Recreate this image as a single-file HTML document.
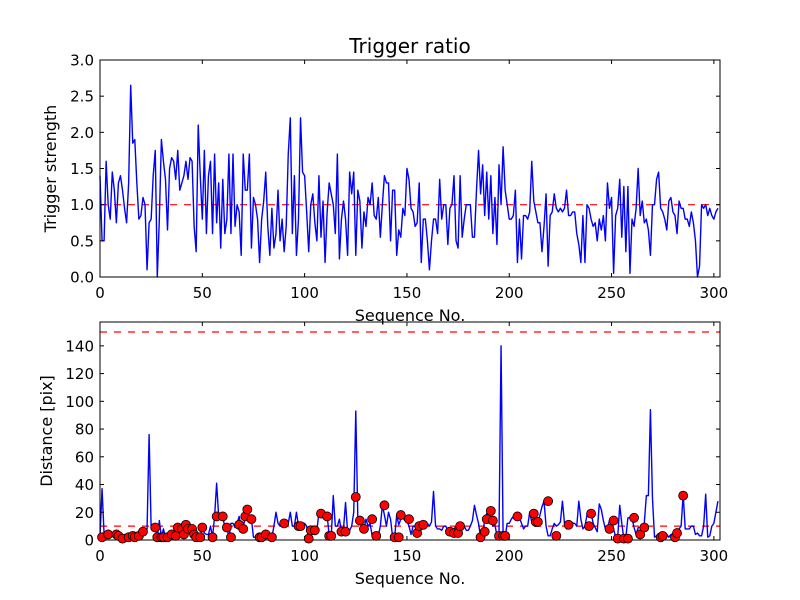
<!DOCTYPE html>
<html><head><meta charset="utf-8"><style>
body{margin:0;background:#fff;}
svg{display:block;font-family:"DejaVu Sans","Liberation Sans",sans-serif;}
</style></head><body>
<svg id="chart" width="800" height="600">
<rect width="800" height="600" fill="#fff"/>
<text x="410" y="53" font-size="20" text-anchor="middle">Trigger ratio</text>
<g id="top"></g>
<g id="bot"></g>
</svg>
<script>
const strength = [
1.4,0.5,0.5,1.6,1.0,0.8,1.45,1.2,0.75,1.3,
1.4,1.2,0.95,0.75,1.3,2.65,1.85,1.9,1.3,0.8,
0.85,1.1,1.0,0.1,0.75,0.8,1.4,1.75,0.0,0.8,
1.9,1.6,1.35,0.65,1.5,1.65,1.6,1.35,1.75,1.2,
1.3,1.4,1.6,1.35,1.65,1.6,0.7,0.35,2.1,1.4,
0.8,1.75,0.6,1.4,1.6,0.6,1.7,0.75,1.3,0.4,
1.35,0.6,0.8,1.7,0.6,1.7,0.7,1.0,0.9,0.3,
1.7,1.2,1.2,1.7,0.4,1.1,1.0,0.8,0.2,0.8,
1.05,1.45,0.7,0.3,0.95,0.4,0.6,1.2,0.5,0.8,
0.35,0.7,1.7,2.2,0.6,1.4,0.3,0.8,2.2,1.45,
1.4,0.9,0.35,1.0,1.15,0.75,0.5,1.4,0.55,1.05,
0.2,0.9,1.3,1.15,1.0,0.6,1.7,0.25,0.8,1.05,
0.8,0.3,1.45,1.15,1.45,0.3,1.2,1.05,0.4,0.9,
0.7,1.1,1.0,1.3,0.85,0.8,1.1,0.55,1.0,1.4,
1.3,1.3,0.5,1.2,1.2,0.3,0.65,0.55,0.95,0.85,
1.5,1.35,0.95,0.9,0.7,0.75,1.3,0.2,0.8,0.8,
0.5,0.1,0.5,0.8,0.8,0.6,1.35,0.8,1.0,1.0,
0.45,0.95,1.0,1.4,0.5,0.4,1.4,0.55,0.8,1.0,
1.0,1.0,0.55,0.55,1.2,1.75,1.15,1.55,0.85,1.45,
0.8,1.4,0.6,1.1,0.45,1.55,1.0,1.8,1.2,1.0,
0.8,0.8,0.85,1.2,0.2,0.8,0.25,0.85,0.85,0.8,
0.9,1.6,1.05,0.9,0.75,0.75,0.35,0.7,1.15,0.15,
0.85,0.9,1.15,0.95,0.9,0.95,0.9,0.95,1.2,0.85,
0.85,0.9,0.9,0.6,0.45,0.2,0.85,0.2,1.0,0.95,
0.8,0.7,0.75,0.5,0.8,0.65,0.85,0.5,1.3,0.95,
1.1,0.05,0.85,0.95,1.35,0.55,1.25,0.35,1.25,0.05,
0.8,0.7,0.95,1.5,0.85,1.05,0.75,0.8,0.65,0.3,
1.0,1.0,1.35,1.45,0.95,0.9,0.8,0.65,1.05,1.1,
0.9,0.85,0.6,1.05,0.95,0.95,0.8,0.8,0.7,0.9,
0.75,0.5,0.0,0.15,1.0,0.95,1.0,0.85,0.95,0.85,
0.8,0.9,0.95];
const distance = [
2,37,4,4,5,3,4,3,4,5,
3,2,4,2,1,2,3,2,4,5,
5,6,7,8,76,8,9,9,2,14,
2,8,2,2,4,4,4,4,9,7,
5,10,10,7,4,4,2,3,2,2,
9,5,4,4,10,2,17,41,17,17,
17,9,9,2,12,12,9,12,17,9,
9,17,22,15,15,2,2,2,2,2,
4,6,4,2,2,10,20,12,10,12,
12,12,12,20,10,10,20,10,11,11,
12,10,0,5,8,5,7,20,19,18,
18,18,3,2,32,10,10,15,6,8,
27,6,7,10,20,93,16,15,9,8,
15,10,12,3,5,4,3,10,25,18,
10,20,15,2,2,18,11,15,16,14,
14,10,4,10,10,8,10,10,11,9,
12,10,13,35,10,8,8,7,10,10,
7,6,5,8,10,12,12,10,10,7,
7,10,14,25,18,12,2,3,15,19,
21,15,10,11,3,5,140,3,2,12,
12,15,17,18,20,16,12,8,10,10,
20,13,13,10,12,18,24,28,10,3,
3,8,12,10,11,13,28,12,8,10,
10,12,12,10,28,15,8,10,18,18,
20,12,9,6,26,22,14,8,9,14,
14,8,2,2,25,12,1,2,16,16,
16,9,4,9,9,10,12,32,32,94,
30,2,3,3,3,5,3,4,2,4,
4,5,4,8,10,33,8,8,8,10,
10,4,5,3,3,10,33,2,3,10,
12,20,28];
const markerIdx = [1,4,8,9,11,14,16,17,19,21,27,28,30,31,33,35,37,38,40,41,42,43,45,46,47,49,50,55,57,60,62,64,68,70,71,72,74,78,79,81,84,90,97,98,102,103,105,108,111,112,113,118,120,125,127,129,133,135,139,144,146,147,151,155,156,158,171,173,175,176,186,188,189,191,192,195,197,198,204,212,213,214,219,223,229,239,240,249,251,253,256,258,261,264,266,274,275,281,282,285];
const markerVal = [2,4,4,3,1,2,3,2,3,6,9,2,2,2,2,4,3,9,8,4,11,8,8,4,2,2,9,2,17,17,9,2,11,8,17,22,15,2,2,4,2,12,10,10,1,7,7,19,17,3,3,6,6,31,14,8,15,3,25,2,2,18,15,5,10,11,6,5,5,10,2,6,15,21,14,3,3,3,17,19,13,13,28,3,11,10,19,8,14,1,1,1,16,4,9,2,3,2,5,32];
const xTicks = [0,50,100,150,200,250,300];
const topYTicks = [0.0,0.5,1.0,1.5,2.0,2.5,3.0];
const botYTicks = [0,20,40,60,80,100,120,140];
const topThreshold = [1.0];
const botThresholds = [10,150];

const NS = "http://www.w3.org/2000/svg";
function mk(tag, attrs, parent){const e=document.createElementNS(NS,tag);for(const k in attrs)e.setAttribute(k,attrs[k]);parent.appendChild(e);return e;}
const L=100,R=720,XMAX=303;
const xs = v => L + (R-L)*v/XMAX;

function panel(g, top, bottom, ymax, yTicks, fmt, ylabel, ylx, thresholds, series, name){
  const ys = v => bottom - (bottom-top)*v/ymax;
  thresholds.forEach(t=>{
    const ln=mk('line',{x1:L,x2:R,y1:ys(t),y2:ys(t),stroke:'#ff0000','stroke-width':1.2,'stroke-dasharray':'7,7'},g);
    
    
  });
  const pts = series.map((v,i)=>xs(i).toFixed(2)+','+ys(v).toFixed(2)).join(' ');
  const pl=mk('polyline',{points:pts,fill:'none',stroke:'#0000ff','stroke-width':1.4,'stroke-linejoin':'round'},g);
  
  
  const fr=mk('rect',{x:L,y:top,width:R-L,height:bottom-top,fill:'none',stroke:'#000','stroke-width':1},g);
  
  
  xTicks.forEach(t=>{
    const x=xs(t);
    mk('line',{x1:x,x2:x,y1:bottom,y2:bottom-4,stroke:'#000'},g);
    mk('line',{x1:x,x2:x,y1:top,y2:top+4,stroke:'#000'},g);
    const tx=mk('text',{x:x,y:bottom+21,'font-size':15,'text-anchor':'middle'},g);
    tx.textContent=t;
    
    
  });
  yTicks.forEach(t=>{
    const y=ys(t);
    mk('line',{x1:L,x2:L+4,y1:y,y2:y,stroke:'#000'},g);
    mk('line',{x1:R,x2:R-4,y1:y,y2:y,stroke:'#000'},g);
    const tx=mk('text',{x:L-6,y:y+5.5,'font-size':15,'text-anchor':'end'},g);
    tx.textContent=fmt(t);
    
    
  });
  const xl=mk('text',{x:410,y:bottom+44,'font-size':16,'text-anchor':'middle'},g);
  xl.textContent='Sequence No.';
  
  
  const cy=(top+bottom)/2;
  const yl=mk('text',{x:ylx,y:cy,'font-size':16,'text-anchor':'middle',transform:'rotate(-90 '+ylx+' '+cy+')'},g);
  yl.textContent=ylabel;
  
  
  return ys;
}
const gt=document.getElementById('top'), gb=document.getElementById('bot');
panel(gt,60,277,3.0,topYTicks,v=>v.toFixed(1),'Trigger strength',56,topThreshold,strength,'top');
const ysb=panel(gb,322,540,157.2,botYTicks,v=>String(v),'Distance [pix]',52,botThresholds,distance,'bottom');
markerIdx.forEach((idx,k)=>{
  const c=mk('circle',{cx:xs(idx),cy:ysb(markerVal[k]),r:4.5,fill:'#ff0000',stroke:'#000','stroke-width':0.8},gb);
  
  
});
</script>
</body></html>
